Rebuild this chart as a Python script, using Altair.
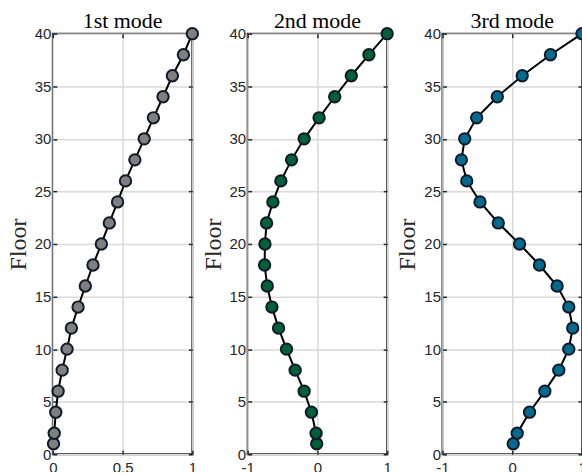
import altair as alt
import pandas as pd

floors = [1, 2, 4, 6, 8, 10, 12, 14, 16, 18, 20, 22, 24, 26, 28, 30, 32, 34, 36, 38, 40]
mode1 = [0.005, 0.01, 0.021, 0.038, 0.067, 0.102, 0.133, 0.181, 0.233, 0.288, 0.348,
         0.405, 0.464, 0.521, 0.588, 0.655, 0.721, 0.79, 0.857, 0.936, 1.0]
mode2 = [-0.01, -0.019, -0.086, -0.19, -0.319, -0.443, -0.557, -0.652, -0.719, -0.757, -0.752,
         -0.729, -0.638, -0.524, -0.371, -0.19, 0.024, 0.248, 0.486, 0.738, 1.0]
mode3 = [0.014, 0.071, 0.248, 0.467, 0.667, 0.81, 0.867, 0.81, 0.643, 0.39, 0.105,
         -0.2, -0.462, -0.652, -0.729, -0.681, -0.51, -0.214, 0.143, 0.548, 1.0]

titles = ["1st mode", "2nd mode", "3rd mode"]
fills = ["#7f7f7f", "#00603a", "#006b8f"]
xdomains = [[0, 1], [-1, 1], [-1, 1]]
xticks = [[0, 0.5, 1], [-1, 0, 1], [-1, 0, 1]]
yticks = [0, 5, 10, 15, 20, 25, 30, 35, 40]

SANS = "Liberation Sans"
SERIF = "Liberation Serif"
AX = "#262626"
OFF = -4
TS = 4
LBL = "'' + datum.value"


def panel(vals, title, fill, xdom, xt):
    df = pd.DataFrame({"floor": floors, "u": vals})
    base = alt.Chart(df)
    line = base.mark_line(color="black", strokeWidth=2).encode(
        x=alt.X("u:Q",
                scale=alt.Scale(domain=xdom, nice=False, zero=False),
                axis=alt.Axis(orient="bottom", values=xt, title=None, offset=OFF,
                              domain=False, tickSize=TS, labelPadding=6, labelExpr=LBL,
                              grid=True, labelFlush=False)),
        y=alt.Y("floor:Q",
                scale=alt.Scale(domain=[0, 40], nice=False, zero=False),
                axis=alt.Axis(orient="left", values=yticks, title="Floor", offset=OFF,
                              domain=False, tickSize=TS, labelPadding=2, labelExpr=LBL,
                              grid=True, titlePadding=4, labelFlush=False)),
        order="floor:Q",
    )
    pts = base.mark_circle(fill=fill, fillOpacity=1, opacity=1, stroke="#0f1b2b",
                           strokeWidth=2, size=130).encode(
        x=alt.X("u:Q", axis=alt.Axis(orient="top", values=xt, title=None, offset=OFF,
                                     domain=False, tickSize=TS, labels=False, grid=False)),
        y=alt.Y("floor:Q", axis=alt.Axis(orient="right", values=yticks, title=None, offset=OFF,
                                         domain=False, tickSize=TS, labels=False, grid=False)),
    )
    return alt.layer(line, pts).resolve_axis(x="independent", y="independent").properties(
        width=140, height=422,
        title=alt.TitleParams(text=title, font=SERIF, fontSize=22, fontWeight="normal",
                              color="black", offset=-9, frame="group", anchor="middle"),
    )


panels = [panel(v, t, f, d, x) for v, t, f, d, x in zip([mode1, mode2, mode3], titles, fills, xdomains, xticks)]

chart = alt.hconcat(*panels, spacing=55.5, bounds="flush").properties(
    padding={"left": 5, "top": 8, "right": -11, "bottom": -5},
    background="white",
).configure_view(
    stroke=AX, strokeWidth=2, fill="white"
).configure_axis(
    labelFont=SANS, labelFontSize=15, labelColor=AX,
    titleFont=SERIF, titleFontSize=24, titleFontWeight="normal", titleColor=AX,
    tickColor=AX, tickWidth=1.5,
    gridColor="#d9d9d9", gridWidth=1.5, gridOpacity=1,
)

chart.save("out.html", embed_options={"renderer": "svg", "actions": False})
